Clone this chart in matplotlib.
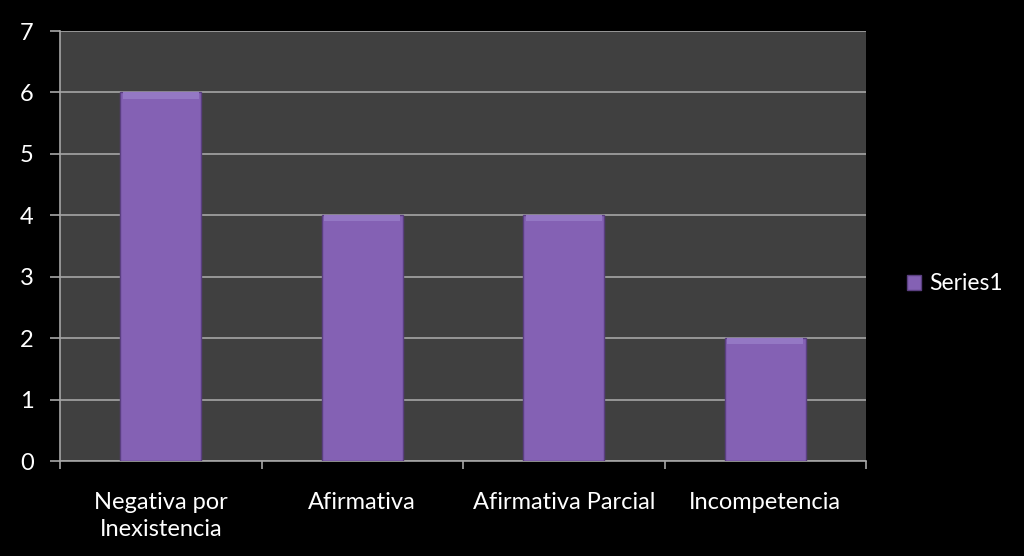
import matplotlib.pyplot as plt
import numpy as np

plt.rcParams['font.family'] = ['Lato', 'DejaVu Sans']

categories = ["Negativa por\nInexistencia", "Afirmativa", "Afirmativa Parcial", "Incompetencia"]
values = [6, 4, 4, 2]
series_name = "Series1"

fig = plt.figure(figsize=(10.24, 5.56), dpi=100, facecolor="black")
ax = fig.add_axes([60 / 1024, 1 - 461 / 556, 806 / 1024, 430 / 556])
ax.set_facecolor("#404040")

x = np.arange(len(categories))
ax.set_axisbelow(True)
ax.yaxis.grid(True, color="#a6a6a6", linewidth=1.2)
bars = ax.bar(x, values, width=0.4, color="#8461b4", edgecolor="#5a3f80",
              linewidth=1, label=series_name, zorder=3)
# lighter top bevel
for b in bars:
    ax.bar(b.get_x() + b.get_width() / 2, 0.1, bottom=b.get_height() - 0.1,
           width=b.get_width() * 0.94, color="#9478c4", linewidth=0, zorder=4)

ax.set_xlim(-0.5, len(categories) - 0.5)
ax.set_ylim(0, 7)
ax.set_yticks(range(0, 8))
ax.set_xticks(x)
ax.set_xticklabels(categories, linespacing=1.4)
ax.set_xticks(np.arange(-0.5, len(categories)), minor=True)
ax.tick_params(axis="x", which="major", length=0, pad=22, colors="white", labelsize=17)
ax.tick_params(axis="x", which="minor", length=6, color="#a6a6a6", width=1.2)
ax.tick_params(axis="y", length=7, color="#a6a6a6", width=1.2, colors="white",
               labelsize=17, pad=12)
for s in ["top", "right"]:
    ax.spines[s].set_visible(False)
for s in ["left", "bottom"]:
    ax.spines[s].set_color("#a6a6a6")
    ax.spines[s].set_linewidth(1.2)

leg = fig.legend(handles=[bars], labels=[series_name], loc="center left",
                 bbox_to_anchor=(0.866, 1 - 284 / 556), frameon=False,
                 fontsize=16.5, handlelength=0.6, handleheight=0.6, handletextpad=0.35)
for t in leg.get_texts():
    t.set_color("white")

fig.savefig("out.png", dpi=100, facecolor="black")
